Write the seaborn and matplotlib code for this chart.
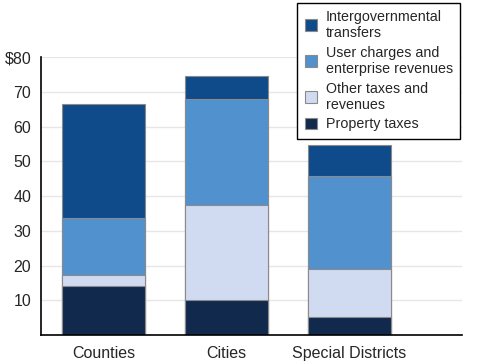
import matplotlib
matplotlib.use("Agg")
import matplotlib.pyplot as plt
import numpy as np
import pandas as pd
import seaborn as sns

categories = ["Counties", "Cities", "Special Districts"]
property_taxes = [14.0, 10.0, 5.2]
other_taxes = [3.3, 27.5, 13.9]
user_charges = [16.4, 30.3, 26.7]
intergov = [32.8, 6.8, 9.0]

labels = ["Intergovernmental\ntransfers", "User charges and\nenterprise revenues",
          "Other taxes and\nrevenues", "Property taxes"]
colors = ["#0f4b8a", "#5191cd", "#d0daf0", "#12294e"]
yticks = [10, 20, 30, 40, 50, 60, 70, 80]
yticklabels = ["10", "20", "30", "40", "50", "60", "70", "$80"]


def main():
    sns.set_style("white")
    plt.rcParams["font.family"] = ["Liberation Sans", "DejaVu Sans"]

    layers = [property_taxes, other_taxes, user_charges, intergov]
    cum = np.cumsum(np.array(layers), axis=0)  # bottom-up cumulative
    df = pd.DataFrame({"category": categories})
    df["l0"] = cum[0]
    df["l1"] = cum[1]
    df["l2"] = cum[2]
    df["l3"] = cum[3]

    fig = plt.figure(figsize=(4.82, 3.61), dpi=100)
    ax = fig.add_axes([0.085, 0.072, 0.8735, 0.770])

    for y in yticks:
        ax.axhline(y, color="#e6e6e6", lw=1, zorder=0)

    # draw tallest first, overlay the shorter cumulative bars
    for col, color, label in zip(["l3", "l2", "l1", "l0"], colors, labels):
        sns.barplot(data=df, x="category", y=col, color=color, width=0.675,
                    edgecolor="#8a8a8a", linewidth=0.8, saturation=1,
                    label=label, ax=ax, zorder=2)

    handles, labs = ax.get_legend_handles_labels()
    if ax.get_legend() is not None:
        ax.get_legend().remove()

    ax.set_xlim(-0.51, 2.915)
    ax.set_ylim(0, 80)
    ax.set_yticks(yticks)
    ax.set_yticklabels(yticklabels, fontsize=11.5)
    ax.tick_params(axis="x", length=0, labelsize=11.5, pad=8)
    ax.tick_params(axis="y", length=4, width=1.2, direction="out", pad=3)
    ax.set_xlabel("")
    ax.set_ylabel("")
    for s in ["top", "right"]:
        ax.spines[s].set_visible(False)
    for s in ["left", "bottom"]:
        ax.spines[s].set_color("black")
        ax.spines[s].set_linewidth(1.2)

    leg = fig.legend(handles, labs, loc="upper right", bbox_to_anchor=(0.955, 0.993),
                     fancybox=False, edgecolor="black", framealpha=1, fontsize=10.3,
                     handlelength=0.9, handleheight=0.9, handletextpad=0.6,
                     labelspacing=0.4, borderpad=0.5, borderaxespad=0)
    leg.get_frame().set_linewidth(1.0)

    fig.savefig("out.png", dpi=100)


if __name__ == "__main__":
    main()
